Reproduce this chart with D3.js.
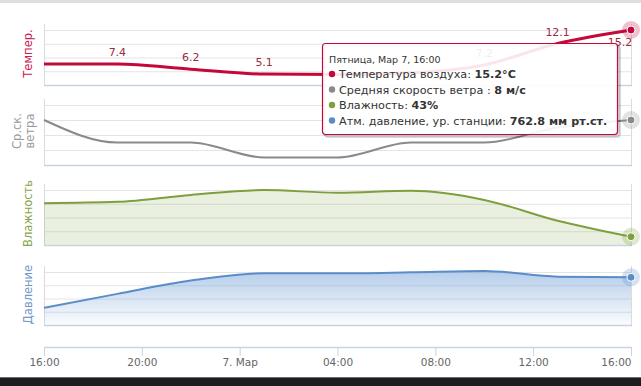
<!DOCTYPE html>
<meta charset="utf-8">
<script src="https://d3js.org/d3.v7.min.js"></script>
<style>
  body { margin: 0; background: #fff; }
  text { font-family: "DejaVu Sans", Verdana, sans-serif; }
</style>
<body>
<script>

// data: one reading every 3 hours
var times = ["2014-03-06T16:00", "2014-03-06T19:00", "2014-03-06T22:00", "2014-03-07T01:00",
             "2014-03-07T04:00", "2014-03-07T07:00", "2014-03-07T10:00", "2014-03-07T13:00",
             "2014-03-07T16:00"];
var temperature = [7.4, 7.4, 6.2, 5.1, 5.0, 5.4, 7.2, 12.1, 15.2];
// which temperature labels are drawn (the others are hidden in the original)
var tempLabelShown = [false, true, true, true, false, false, true, true, true];
var windSpeed   = [8, 5, 5, 3, 3, 5, 5, 7, 8];
var humidity    = [55.2, 55.7, 58.2, 60, 59, 59.7, 56.4, 48.8, 43];
var pressure    = [758.2, 760.3, 762.3, 763.4, 763.4, 763.55, 763.75, 762.9, 762.8];

var panelTitles = [["Темпер."], ["Ср.ск.", "ветра"], ["Влажность"], ["Давление"]];
var tooltipHeader = "Пятница, Мар 7, 16:00";
var tooltipNames  = ["Температура воздуха: ", "Средняя скорость ветра : ", "Влажность: ", "Атм. давление, ур. станции: "];
var tooltipValues = ["15.2°C", "8 м/с", "43%", "762.8 мм рт.ст."];

var width = 641, height = 386;
var x0 = 44, x1 = 631;

var svg = d3.select("body").append("svg")
    .attr("width", width).attr("height", height);

// thin grey strip at the top and the dark strip at the bottom of the screenshot
svg.append("rect").attr("x", 0).attr("y", 0).attr("width", width).attr("height", 3).attr("fill", "#dedede");
svg.append("rect").attr("x", 0).attr("y", 377).attr("width", width).attr("height", 9).attr("fill", "#1b1d1f");
svg.append("line").attr("x1", 0).attr("x2", width).attr("y1", 377.5).attr("y2", 377.5).attr("stroke", "#6a6e72");

var parse = d3.timeParse("%Y-%m-%dT%H:%M");
var dates = times.map(parse);

var x = d3.scaleTime()
    .domain(d3.extent(dates))
    .range([x0, x1]);

var defs = svg.append("defs");
var grad = defs.append("linearGradient")
    .attr("id", "presGrad")
    .attr("x1", 0).attr("y1", 0).attr("x2", 0).attr("y2", 1);
grad.append("stop").attr("offset", "0%").attr("stop-color", "#6b9bd6").attr("stop-opacity", 0.5);
grad.append("stop").attr("offset", "100%").attr("stop-color", "#6b9bd6").attr("stop-opacity", 0.03);

var panels = [
  {values: temperature, domain: [2.6, 15.2], top: 30, bottom: 85, color: "#c4093a", titleColor: "#c8204e",
   width: 3, fill: null, labels: true, titleX: [28]},
  {values: windSpeed, domain: [2, 10], top: 105, bottom: 165, color: "#8a8a8a", titleColor: "#9a9a9a",
   width: 2, fill: null, labels: false, titleX: [17, 30]},
  {values: humidity, domain: [40, 60], top: 190, bottom: 245, color: "#7e9f3e", titleColor: "#88a64c",
   width: 2, fill: "rgba(126,160,64,0.16)", labels: false, titleX: [28]},
  {values: pressure, domain: [755.6, 763.6], top: 272, bottom: 325, color: "#5a8cc8", titleColor: "#7098cc",
   width: 2, fill: "url(#presGrad)", labels: false, titleX: [28]}
];

panels.forEach(function(p, k) {
  var y = d3.scaleLinear().domain(p.domain).range([p.bottom, p.top]);
  var g = svg.append("g");
  var data = dates.map(function(d, i) { return {date: d, value: p.values[i], i: i}; });

  // gridlines (4 evenly spaced)
  var step = (p.domain[1] - p.domain[0]) / 4;
  var grid = d3.range(1, 5).map(function(i) { return p.domain[0] + i * step; });
  g.selectAll(".grid").data(grid).enter().append("line")
    .attr("x1", x0).attr("x2", x1)
    .attr("y1", function(d) { return y(d) + 0.5; })
    .attr("y2", function(d) { return y(d) + 0.5; })
    .attr("stroke", "#e4e4e4");

  // side lines
  [x0, x1].forEach(function(xx) {
    g.append("line").attr("x1", xx + 0.5).attr("x2", xx + 0.5)
      .attr("y1", p.top - 6).attr("y2", p.bottom)
      .attr("stroke", "#dcdcdc");
  });

  // area
  if (p.fill) {
    g.append("path").datum(data)
      .attr("fill", p.fill)
      .attr("d", d3.area()
        .x(function(d) { return x(d.date); })
        .y0(p.bottom)
        .y1(function(d) { return y(d.value); })
        .curve(d3.curveMonotoneX));
  }

  // bottom axis line
  g.append("line").attr("x1", x0).attr("x2", x1 + 1)
    .attr("y1", p.bottom + 0.5).attr("y2", p.bottom + 0.5)
    .attr("stroke", "#c6d4e2").attr("stroke-width", 1.5);

  // line
  g.append("path").datum(data)
    .attr("fill", "none")
    .attr("stroke", p.color)
    .attr("stroke-width", p.width)
    .attr("stroke-linejoin", "round")
    .attr("d", d3.line()
      .x(function(d) { return x(d.date); })
      .y(function(d) { return y(d.value); })
      .curve(d3.curveMonotoneX));

  // data labels (temperature only)
  if (p.labels) {
    var shown = data.filter(function(d) { return tempLabelShown[d.i]; });
    g.selectAll(".lbl").data(shown).enter().append("text")
      .attr("x", function(d) {
        var yy = y(d.value) - 8;
        return yy - 10 < p.top - 5 ? x(d.date) - 11 : x(d.date);
      })
      .attr("y", function(d) {
        var yy = y(d.value) - 8;
        return yy - 10 < p.top - 5 ? y(d.value) + 16 : yy;
      })
      .attr("text-anchor", "middle")
      .attr("font-size", "11px")
      .attr("fill", "#9b2c42")
      .text(function(d) { return d.value.toFixed(1); });
  }

  // hover marker on the last point
  var last = data[data.length - 1];
  g.append("circle")
    .attr("cx", x(last.date)).attr("cy", y(last.value)).attr("r", 9)
    .attr("fill", p.color).attr("fill-opacity", 0.25);
  g.append("circle")
    .attr("cx", x(last.date)).attr("cy", y(last.value)).attr("r", 4)
    .attr("fill", p.color).attr("stroke", "#fff").attr("stroke-width", 1);

  // rotated title
  var cy = (p.top + p.bottom) / 2 - 4;
  p.titleX.forEach(function(tx, j) {
    svg.append("text")
      .attr("transform", "translate(" + tx + "," + cy + ") rotate(-90)")
      .attr("text-anchor", "middle")
      .attr("dy", "0.35em")
      .attr("font-size", "11.5px")
      .attr("fill", p.titleColor)
      .text(panelTitles[k][j]);
  });
});

// x axis
var xAxis = svg.append("g")
  .attr("transform", "translate(0,347)")
  .call(d3.axisBottom(x)
    .ticks(d3.timeHour.every(4))
    .tickSize(9)
    .tickSizeOuter(0)
    .tickPadding(3)
    .tickFormat(function(d) { return d.getHours() === 0 ? "7. Мар" : d3.timeFormat("%H:%M")(d); }));
xAxis.select(".domain").attr("stroke", "#c6d4e2").attr("stroke-width", 1.5);
xAxis.selectAll(".tick line").attr("stroke", "#c6d4e2");
xAxis.selectAll(".tick text")
  .attr("fill", "#666")
  .style("font-family", "'DejaVu Sans', Verdana, sans-serif")
  .style("font-size", "10.5px");
// keep the last label inside the chart
xAxis.selectAll(".tick text").filter(function(d) { return +d === +x.domain()[1]; })
  .attr("text-anchor", "end");

// tooltip
var colors = panels.map(function(p) { return p.color; });
var tip = svg.append("g").attr("transform", "translate(322,43)");
[3, 2, 1].forEach(function(o) {
  tip.append("rect").attr("x", o).attr("y", o).attr("width", 295).attr("height", 91).attr("rx", 3)
    .attr("fill", "none").attr("stroke", "#000").attr("stroke-opacity", 0.05 * o).attr("stroke-width", 2);
});
tip.append("rect")
  .attr("x", 0.5).attr("y", 0.5).attr("width", 295).attr("height", 91).attr("rx", 3)
  .attr("fill", "#fff").attr("fill-opacity", 0.9)
  .attr("stroke", "#c4093a").attr("stroke-width", 1.2);
tip.append("text")
  .attr("x", 7).attr("y", 20)
  .attr("font-size", "9.5px").attr("fill", "#333")
  .text(tooltipHeader);
tooltipNames.forEach(function(name, i) {
  var by = 35 + i * 15.5;
  tip.append("circle").attr("cx", 10).attr("cy", by - 4).attr("r", 3.2).attr("fill", colors[i]);
  var t = tip.append("text").attr("x", 17).attr("y", by).attr("font-size", "11.2px").attr("fill", "#333");
  t.append("tspan").text(name);
  t.append("tspan").attr("font-weight", "bold").text(tooltipValues[i]);
});

</script>
